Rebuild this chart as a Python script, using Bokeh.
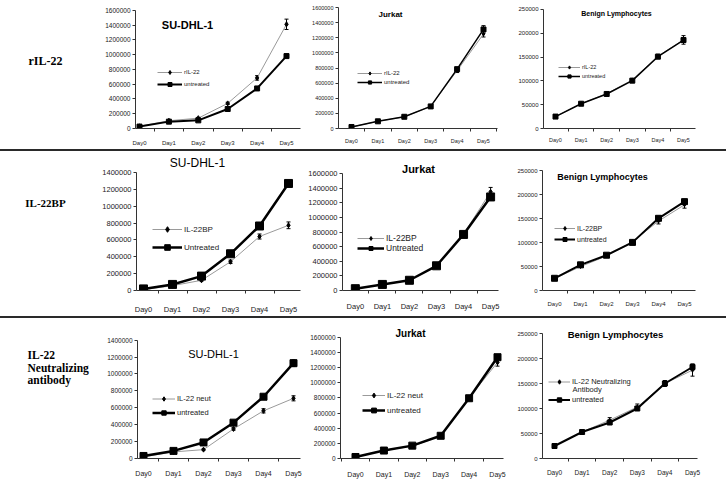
from bokeh.plotting import figure
from bokeh.models import (Range1d, FixedTicker, NumeralTickFormatter, Legend, LegendItem,
                          Label, Whisker, ColumnDataSource, Div, TeeHead)
from bokeh.layouts import row, column
from bokeh.embed import file_html
from bokeh.resources import INLINE

# ---------------- data ----------------
days = ["Day0", "Day1", "Day2", "Day3", "Day4", "Day5"]
cell_titles = ["SU-DHL-1", "Jurkat", "Benign Lymphocytes"]

# Row 1: rIL-22
su_ril22 = [30000, 105000, 140000, 340000, 685000, 1410000]
su_ril22_err = [5000, 8000, 10000, 15000, 30000, 70000]
su_untr1 = [26000, 93000, 110000, 264000, 542000, 980000]
su_untr1_err = [3000, 5000, 8000, 10000, 15000, 25000]

jk_ril22 = [20000, 95000, 155000, 295000, 765000, 1250000]
jk_ril22_err = [3000, 6000, 8000, 10000, 25000, 40000]
jk_untr1 = [20000, 95000, 155000, 292000, 785000, 1310000]
jk_untr1_err = [3000, 5000, 6000, 8000, 20000, 50000]

bn_ril22 = [25000, 52000, 73000, 102000, 152000, 186000]
bn_ril22_err = [1000, 1500, 2000, 2500, 4000, 9000]
bn_untr1 = [25000, 52000, 72500, 100500, 150800, 185700]
bn_untr1_err = [1000, 1500, 2000, 2000, 3000, 5000]

# Row 2: IL-22BP
su_bp = [10000, 57000, 121000, 341000, 641000, 774000]
su_bp_err = [3000, 6000, 10000, 20000, 30000, 40000]
su_untr2 = [19000, 72000, 171000, 436000, 766000, 1271000]
su_untr2_err = [4000, 6000, 10000, 15000, 20000, 30000]

jk_bp = [20000, 80000, 140000, 332000, 772000, 1350000]
jk_bp_err = [3000, 6000, 8000, 12000, 25000, 60000]
jk_untr2 = [25000, 83000, 140000, 338000, 767000, 1280000]
jk_untr2_err = [3000, 5000, 7000, 10000, 20000, 40000]

bn_bp = [25000, 50000, 72000, 102000, 145000, 179000]
bn_bp_err = [1000, 1500, 2000, 2500, 6000, 7000]
bn_untr2 = [25500, 53600, 73700, 100500, 150800, 185600]
bn_untr2_err = [1000, 1500, 2000, 2500, 4000, 5000]

# Row 3: IL-22 neutralizing antibody
su_neut = [19000, 78000, 105000, 350000, 564000, 712000]
su_neut_err = [3000, 5000, 8000, 15000, 25000, 30000]
su_untr3 = [30000, 90000, 190000, 424000, 731000, 1128000]
su_untr3_err = [4000, 6000, 10000, 15000, 20000, 40000]

jk_neut = [20000, 110000, 160000, 300000, 800000, 1270000]
jk_neut_err = [3000, 6000, 8000, 10000, 25000, 50000]
jk_untr3 = [20000, 105000, 170000, 300000, 796000, 1338000]
jk_untr3_err = [3000, 5000, 7000, 10000, 20000, 30000]

bn_neut = [25000, 53000, 76700, 103000, 150000, 176700]
bn_neut_err = [1000, 2000, 5000, 6000, 6000, 12000]
bn_untr3 = [25000, 53000, 72000, 100000, 150000, 183000]
bn_untr3_err = [1000, 1500, 2000, 3000, 4000, 6000]

SANS = "Liberation Sans"
SERIF = "Liberation Serif"
X = list(range(len(days)))
LEG_DY = 3


def panel(treat, treat_err, untr, untr_err, treat_label, untr_label, ymax, ystep,
          box, frame, day0x, day5x, title, title_pos, title_size, title_bold,
          leg_left, leg_top, leg_item_h, leg_spacing, leg_font, glyph_w,
          tick_font, day_font, day_standoff, untr_w, untr_size, treat_size,
          extra=None):
    bx0, bx1, by0, by1 = box
    fl, fr, ft, fb = frame
    sp = (day5x - day0x) / 5.0
    xs = -(day0x - fl) / sp
    xe = 5 + (fr - day5x) / sp
    # the plotting frame reaches the top of the figure; the value axis stops at ymax
    yend = ymax * (fb - by0) / float(fb - ft)
    p = figure(width=bx1 - bx0, height=by1 - by0,
               x_range=Range1d(xs, xe), y_range=Range1d(0, yend),
               min_border_left=fl - bx0, min_border_right=bx1 - fr,
               min_border_top=0, min_border_bottom=by1 - fb,
               output_backend="svg", toolbar_location=None)
    p.xgrid.visible = False
    p.ygrid.visible = False
    p.outline_line_color = None
    p.background_fill_color = "white"
    p.border_fill_color = "white"

    xa = p.xaxis[0]
    xa.ticker = FixedTicker(ticks=X, minor_ticks=[i + 0.5 for i in range(-1, 6)])
    xa.major_label_overrides = {i: d for i, d in enumerate(days)}
    xa.major_tick_out = 0
    xa.major_tick_in = 0
    xa.major_tick_line_color = None
    xa.minor_tick_out = 3
    xa.minor_tick_in = 0
    xa.minor_tick_line_color = "#333333"
    xa.axis_line_color = "#333333"
    xa.major_label_text_font = SANS
    xa.major_label_text_font_size = day_font
    xa.major_label_text_color = "#222222"
    xa.major_label_standoff = day_standoff

    ya = p.yaxis[0]
    ya.ticker = FixedTicker(ticks=list(range(0, ymax + 1, ystep)), minor_ticks=[])
    ya.formatter = NumeralTickFormatter(format="0")
    ya.bounds = (0, ymax)
    ya.major_tick_out = 3
    ya.major_tick_in = 0
    ya.minor_tick_out = 0
    ya.minor_tick_in = 0
    ya.major_tick_line_color = "#333333"
    ya.axis_line_color = "#333333"
    ya.major_label_text_font = SANS
    ya.major_label_text_font_size = tick_font
    ya.major_label_text_color = "#222222"
    ya.major_label_standoff = 2

    tl = p.line(X, treat, line_color="#9a9a9a", line_width=1)
    ts = p.scatter(X, treat, marker="diamond", size=treat_size, color="black")
    ul = p.line(X, untr, line_color="black", line_width=untr_w)
    us = p.scatter(X, untr, marker="square", size=untr_size, color="black")

    for vals, errs in ((treat, treat_err), (untr, untr_err)):
        src = ColumnDataSource(dict(x=X, upper=[v + e for v, e in zip(vals, errs)],
                                    lower=[v - e for v, e in zip(vals, errs)]))
        p.add_layout(Whisker(source=src, base="x", upper="upper", lower="lower",
                             line_color="black", line_width=1,
                             upper_head=TeeHead(size=4, line_color="black", line_width=1),
                             lower_head=TeeHead(size=4, line_color="black", line_width=1)))

    H = 2 * leg_item_h + leg_spacing
    legend = Legend(items=[LegendItem(label=treat_label, renderers=[tl, ts]),
                           LegendItem(label=untr_label, renderers=[ul, us])],
                    location=(leg_left - fl, fb - (leg_top + LEG_DY + H)),
                    border_line_color=None, background_fill_alpha=0,
                    padding=0, margin=0, spacing=leg_spacing, label_standoff=2,
                    glyph_width=glyph_w, glyph_height=leg_item_h, label_height=leg_item_h,
                    label_text_font=SANS, label_text_font_size=leg_font,
                    label_text_color="#222222")
    p.add_layout(legend)

    def to_data(px, py):
        return xs + (px - fl) / sp, ymax * (fb - py) / float(fb - ft)

    tx, ty = to_data(*title_pos)
    p.add_layout(Label(x=tx, y=ty, text=title, text_align="center", text_baseline="middle",
                       text_font=SANS, text_font_size=title_size,
                       text_font_style="bold" if title_bold else "normal",
                       text_color="black"))
    if extra is not None:
        etext, epos, efont = extra
        ex, ey = to_data(*epos)
        p.add_layout(Label(x=ex, y=ey, text=etext, text_align="left", text_baseline="middle",
                           text_font=SANS, text_font_size=efont, text_color="#222222"))
    return p


def label_fig(h, lines):
    w = 90
    p = figure(width=w, height=h, x_range=Range1d(0, w), y_range=Range1d(h, 0),
               min_border=0, output_backend="svg", toolbar_location=None)
    p.axis.visible = False
    p.xgrid.visible = False
    p.ygrid.visible = False
    p.outline_line_color = None
    for text, x, y, align, size in lines:
        p.add_layout(Label(x=x, y=y, text=text, text_align=align, text_baseline="middle",
                           text_font=SERIF, text_font_size=size, text_font_style="bold",
                           text_color="black"))
    return p


# page coordinates of rows/columns
R1 = (0, 149)
R2 = (151, 316)
R3 = (318, 483)
CL = (90, 305)
CM = (305, 510)
CR = (510, 726)

p1 = panel(su_ril22, su_ril22_err, su_untr1, su_untr1_err, "rIL-22", "untreated", 1600000, 200000,
           (CL[0], CL[1], R1[0], R1[1]), (135, 300, 10, 131), 139, 286,
           cell_titles[0], (187, 25), "11px", True,
           157, 67, 10, 2, "6px", 25, "6.5px", "6px", 8, 2, 5, 5)
p2 = panel(jk_ril22, jk_ril22_err, jk_untr1, jk_untr1_err, "rIL-22", "untreated", 1600000, 200000,
           (CM[0], CM[1], R1[0], R1[1]), (338, 497, 7, 128), 351, 483,
           cell_titles[1], (390, 14), "8px", True,
           357, 66, 8, 1, "6px", 25, "5.5px", "5.5px", 6, 1.5, 5, 4)
p3 = panel(bn_ril22, bn_ril22_err, bn_untr1, bn_untr1_err, "rIL-22", "untreated", 250000, 50000,
           (CR[0], CR[1], R1[0], R1[1]), (543, 695, 9, 129), 555, 683,
           cell_titles[2], (616, 13), "7px", True,
           558, 61, 8, 1, "5.5px", 22, "6px", "5.5px", 5, 1.5, 5, 4)

p4 = panel(su_bp, su_bp_err, su_untr2, su_untr2_err, "IL-22BP", "Untreated", 1400000, 200000,
           (CL[0], CL[1], R2[0], R2[1]), (136, 300, 173, 296), 143, 288,
           cell_titles[0], (197, 163), "12px", False,
           152, 225, 14, 4, "8px", 30, "7.5px", "7.5px", 11, 2.5, 8, 5)
p5 = panel(jk_bp, jk_bp_err, jk_untr2, jk_untr2_err, "IL-22BP", "Untreated", 1600000, 200000,
           (CM[0], CM[1], R2[0], R2[1]), (340, 498, 174, 296), 353, 490,
           cell_titles[1], (417, 169), "11px", True,
           355, 236, 10, 0, "8.5px", 27, "7.5px", "7.5px", 8, 2.5, 8, 5)
p6 = panel(bn_bp, bn_bp_err, bn_untr2, bn_untr2_err, "IL-22BP", "untreated", 250000, 50000,
           (CR[0], CR[1], R2[0], R2[1]), (542, 695, 171, 295), 554, 684,
           cell_titles[2], (602, 177), "9px", True,
           554, 225, 10, 1, "7px", 21, "6px", "6px", 7, 2, 6, 4)

p7 = panel(su_neut, su_neut_err, su_untr3, su_untr3_err, "IL-22 neut", "untreated", 1400000, 200000,
           (CL[0], CL[1], R3[0], R3[1]), (137, 300, 340, 460), 143, 293,
           cell_titles[0], (213, 354), "11px", False,
           152, 392, 11, 3, "7.5px", 23, "6.5px", "7px", 8, 2.5, 7, 5)
p8 = panel(jk_neut, jk_neut_err, jk_untr3, jk_untr3_err, "IL-22 neut", "untreated", 1600000, 200000,
           (CM[0], CM[1], R3[0], R3[1]), (340, 503, 337, 459), 355, 497,
           cell_titles[1], (410, 333), "10px", True,
           362, 387, 12, 3, "8px", 23, "6.5px", "7px", 9, 2.5, 7, 5)
p9 = panel(bn_neut, bn_neut_err, bn_untr3, bn_untr3_err, "IL-22 Neutralizing", "untreated", 250000, 50000,
           (CR[0], CR[1], R3[0], R3[1]), (542, 697, 333, 458), 554, 692,
           cell_titles[2], (615, 334), "9.5px", True,
           548, 373, 11, 7, "7.5px", 22, "6px", "6.5px", 7, 2, 5, 4,
           extra=("Antibody", (572, 388.7), "7.5px"))

l1 = label_fig(R1[1] - R1[0], [("rIL-22", 45, 70 - R1[0], "center", "12px")])
l2 = label_fig(R2[1] - R2[0], [("IL-22BP", 45, 212 - R2[0], "center", "11px")])
l3 = label_fig(R3[1] - R3[0], [("IL-22", 27, 361 - R3[0], "left", "11.5px"),
                               ("Neutralizing", 27, 376 - R3[0], "left", "11.5px"),
                               ("antibody", 27, 391 - R3[0], "left", "11.5px")])


def sep():
    return Div(text="", width=726, height=2, margin=0,
               styles={"background-color": "#2a2a2a"})


layout = column(row(l1, p1, p2, p3), sep(), row(l2, p4, p5, p6), sep(), row(l3, p7, p8, p9))

open("out.html", "w").write(file_html(layout, INLINE))
